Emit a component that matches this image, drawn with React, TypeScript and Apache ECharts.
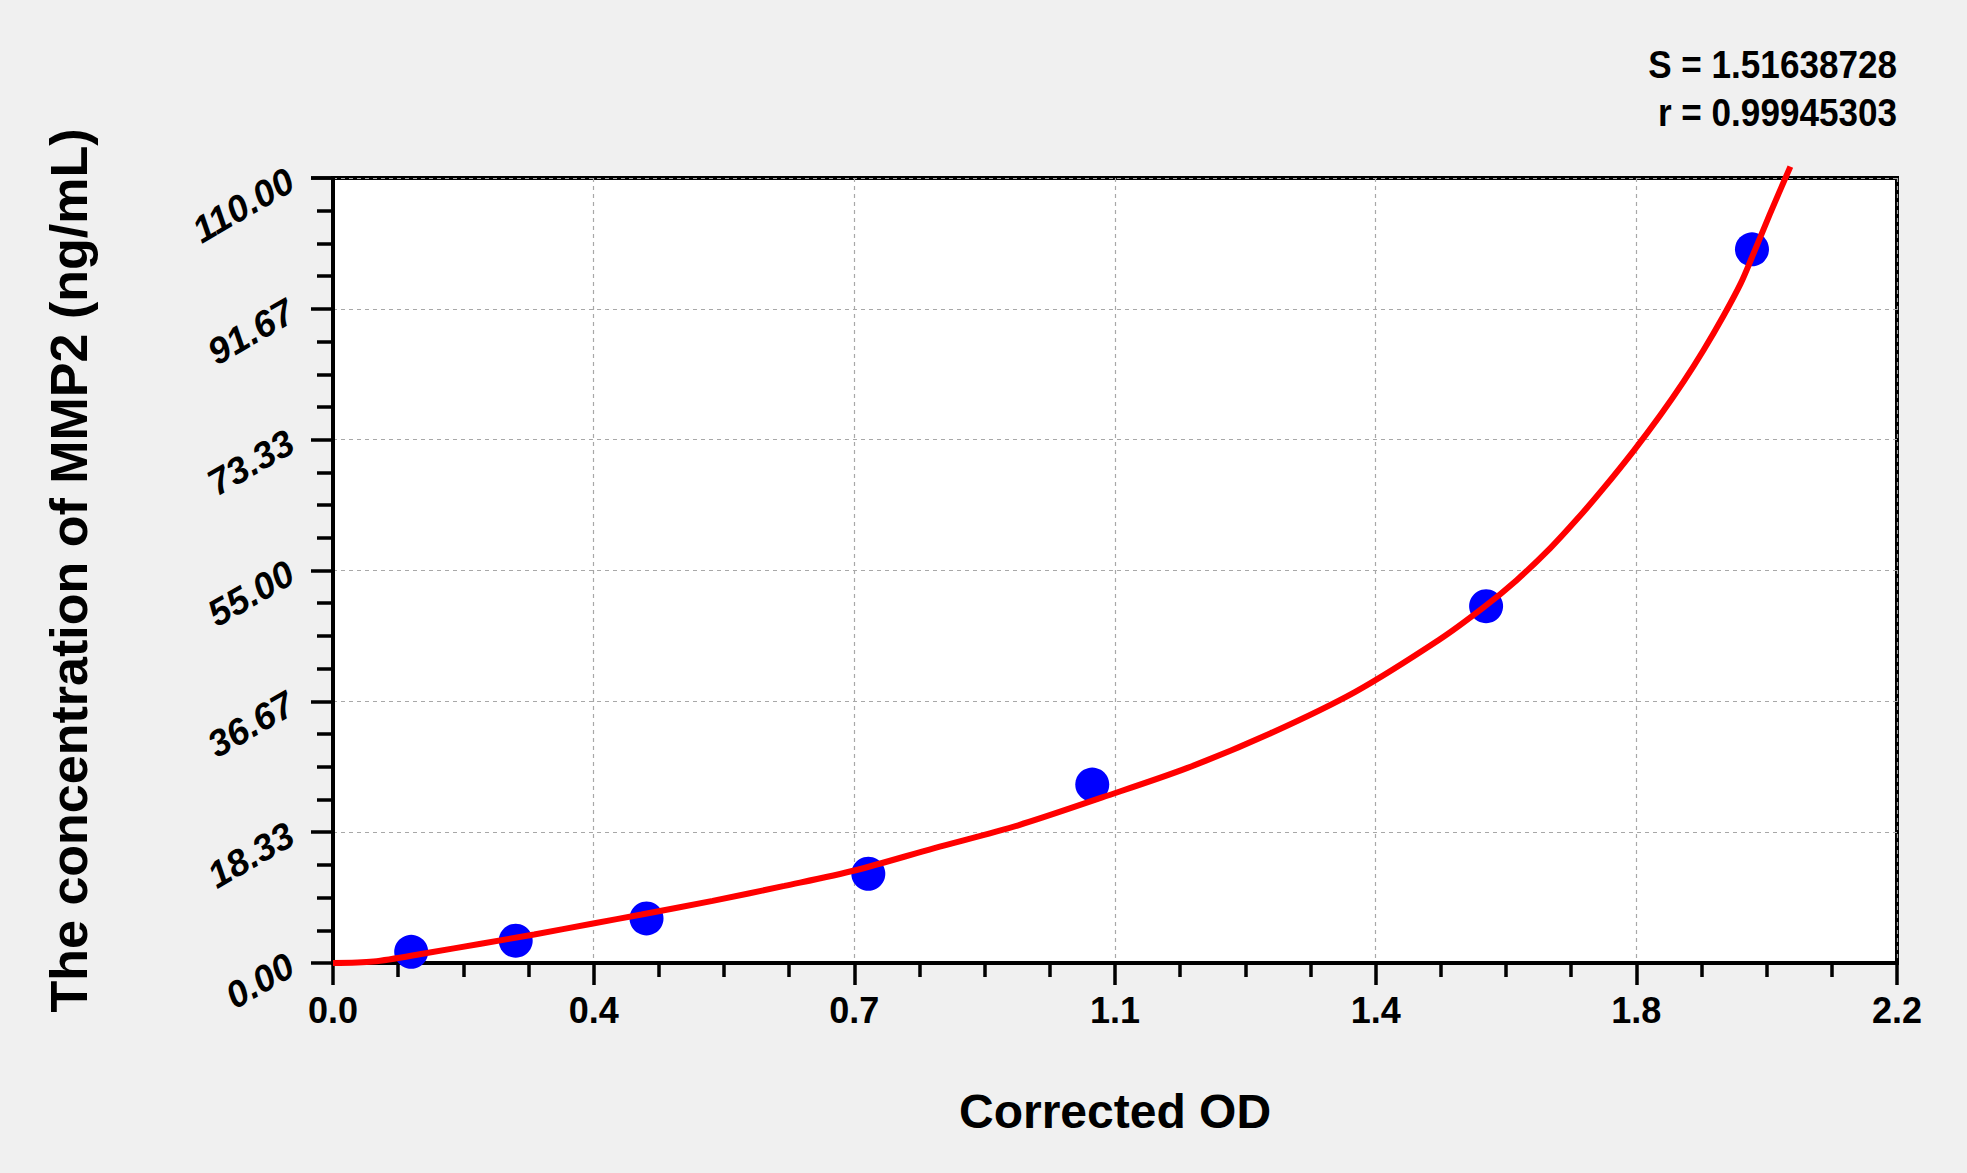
import React, { useEffect, useRef } from "react";
import * as echarts from "echarts";

const xTickLabels = ["0.0", "0.4", "0.7", "1.1", "1.4", "1.8", "2.2"];
const yTickLabels = ["0.00", "18.33", "36.67", "55.00", "73.33", "91.67", "110.00"];

const standardOD = [0.11, 0.257, 0.441, 0.753, 1.068, 1.622, 1.996];
const standardConc = [1.5625, 3.125, 6.25, 12.5, 25, 50, 100];

const curveOD = [0, 0.057, 0.132, 0.208, 0.283, 0.364, 0.434, 0.534, 0.635, 0.735, 0.846, 0.964, 1.082, 1.201, 1.319, 1.438, 1.556, 1.618, 1.665, 1.712, 1.75, 1.787, 1.829, 1.867, 1.9, 1.928, 1.956, 1.98, 1.996, 2.021, 2.05];
const curveConc = [0, 0.2, 1.4, 2.7, 4.0, 5.5, 6.8, 8.7, 10.8, 13.0, 16.1, 19.3, 23.2, 27.3, 32.2, 38.0, 45.3, 49.8, 53.65, 58.1, 62.2, 66.5, 71.7, 76.75, 81.5, 85.9, 90.7, 95.2, 98.9, 104.9, 111.6];

const statLines = ["S = 1.51638728", "r = 0.99945303"];

const FONT = "'Liberation Sans', Arial, sans-serif";

export default function App() {
  const ref = useRef<HTMLDivElement>(null);
  useEffect(() => {
    if (!ref.current) return;
    const chart = echarts.init(ref.current, null, { renderer: "svg" });
    const xMax = 2.2;
    const yMax = 110;
    chart.setOption({
      animation: false,
      backgroundColor: "#f0f0f0",
      textStyle: { fontFamily: FONT },
      grid: {
        left: 333,
        right: 70,
        top: 178,
        bottom: 210,
        show: true,
        backgroundColor: "#ffffff",
        borderColor: "#000000",
        borderWidth: 4,
      },
      graphic: statLines.map((t, i) => ({
        type: "text",
        right: 70,
        top: 45 + i * 48,
        scaleX: 0.9,
        style: {
          text: t,
          fill: "#000",
          font: `bold 39px ${FONT}`,
          textAlign: "right",
        },
      })),
      xAxis: {
        type: "value",
        min: 0,
        max: xMax,
        interval: xMax / 6,
        name: "Corrected OD",
        nameLocation: "middle",
        nameGap: 124,
        nameTextStyle: { fontSize: 48, fontWeight: "bold", color: "#000", fontFamily: FONT },
        axisLine: { show: true, onZero: false, lineStyle: { color: "#000", width: 4 } },
        axisTick: { show: true, inside: false, length: 22, lineStyle: { color: "#000", width: 3.5 } },
        minorTick: { show: true, splitNumber: 4, length: 14, lineStyle: { color: "#000", width: 3.5 } },
        axisLabel: {
          margin: 29,
          fontSize: 36,
          fontWeight: "bold",
          color: "#000",
          fontFamily: FONT,
          formatter: (_v: number, i: number) => xTickLabels[i] ?? "",
        },
        splitLine: { show: true, lineStyle: { color: "#a8a8a8", width: 1.2, type: [4, 4] } },
      },
      yAxis: {
        type: "value",
        min: 0,
        max: yMax,
        interval: yMax / 6,
        name: "The concentration of MMP2 (ng/mL)",
        nameLocation: "middle",
        nameGap: 238,
        nameTextStyle: { fontSize: 52, fontWeight: "bold", color: "#000", fontFamily: FONT },
        axisLine: { show: true, onZero: false, lineStyle: { color: "#000", width: 4 } },
        axisTick: { show: true, inside: false, length: 22, lineStyle: { color: "#000", width: 3.5 } },
        minorTick: { show: true, splitNumber: 4, length: 16, lineStyle: { color: "#000", width: 3.5 } },
        axisLabel: {
          margin: 42,
          rotate: 30,
          fontSize: 37,
          fontWeight: "bold",
          fontStyle: "italic",
          color: "#000",
          fontFamily: FONT,
          padding: [0, 0, 28, 0],
          formatter: (_v: number, i: number) => yTickLabels[i] ?? "",
        },
        splitLine: { show: true, lineStyle: { color: "#a8a8a8", width: 1.2, type: [4, 4] } },
      },
      series: [
        {
          type: "scatter",
          data: standardOD.map((x, i) => [x, standardConc[i]]),
          symbol: "circle",
          symbolSize: 34,
          itemStyle: { color: "#0000ff", opacity: 1 },
          z: 2,
        },
        {
          type: "line",
          data: curveOD.map((x, i) => [x, curveConc[i]]),
          showSymbol: false,
          smooth: 0.3,
          clip: false,
          lineStyle: { color: "#ff0000", width: 6 },
          z: 3,
        },
      ],
    });
    return () => chart.dispose();
  }, []);
  return (
    <div
      ref={ref}
      style={{ position: "fixed", left: 0, top: 0, width: 1967, height: 1173, background: "#f0f0f0" }}
    />
  );
}
